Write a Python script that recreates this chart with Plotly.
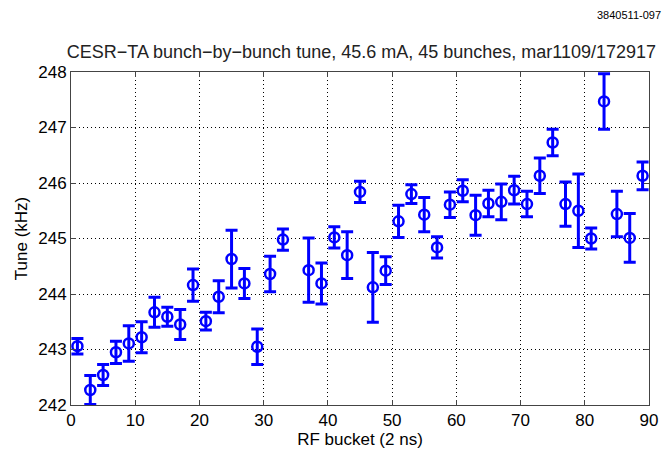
import plotly.graph_objects as go

# RF bucket numbers (bucket 35 not measured)
buckets = [1, 3, 5, 7, 9, 11, 13, 15, 17, 19, 21, 23, 25, 27, 29, 31, 33,
           37, 39, 41, 43, 45, 47, 49, 51, 53, 55, 57, 59, 61, 63, 65, 67,
           69, 71, 73, 75, 77, 79, 81, 83, 85, 87, 89]
tune_khz = [243.06, 242.27, 242.54, 242.95, 243.11, 243.22, 243.67, 243.59,
            243.45, 244.16, 243.51, 243.95, 244.63, 244.19, 243.05, 244.36,
            244.98, 244.43, 244.19, 245.02, 244.70, 245.84, 244.12, 244.42,
            245.31, 245.80, 245.43, 244.84, 245.61, 245.86, 245.42, 245.63,
            245.66, 245.87, 245.62, 246.13, 246.73, 245.62, 245.50, 245.00,
            247.47, 245.44, 245.01, 246.13]
tune_err = [0.14, 0.26, 0.19, 0.20, 0.32, 0.28, 0.27, 0.17, 0.27, 0.29,
            0.16, 0.29, 0.52, 0.27, 0.32, 0.32, 0.19, 0.58, 0.37, 0.19,
            0.42, 0.19, 0.63, 0.25, 0.29, 0.17, 0.31, 0.19, 0.23, 0.20,
            0.36, 0.24, 0.32, 0.25, 0.23, 0.32, 0.24, 0.40, 0.66, 0.19,
            0.50, 0.41, 0.44, 0.25]

x_ticks = [0, 10, 20, 30, 40, 50, 60, 70, 80, 90]
y_ticks = [242, 243, 244, 245, 246, 247, 248]

BLUE = '#0000ff'
FONT = 'Liberation Sans, Arial, sans-serif'

fig = go.Figure(go.Scatter(
    x=buckets,
    y=tune_khz,
    mode='markers',
    marker=dict(symbol='circle-open', size=10, color=BLUE, line=dict(width=2.5, color=BLUE)),
    error_y=dict(type='data', array=tune_err, visible=True,
                 color=BLUE, thickness=3, width=6),
    showlegend=False,
    cliponaxis=False,
    hovertemplate='Bucket %{x}<br>Tune: %{y:.2f} kHz<extra></extra>'
))

axis_common = dict(
    showline=True, linecolor='#444444', linewidth=1, mirror='ticks',
    ticks='inside', ticklen=5, tickcolor='#444444',
    showgrid=True, gridcolor='black', griddash='1px,3px', gridwidth=1,
    zeroline=False, automargin=False,
    tickfont=dict(family=FONT, size=17, color='black'),
)

fig.update_xaxes(
    range=[0, 90], tickvals=x_ticks, ticklabelstandoff=0,
    title=dict(text='RF bucket (2 ns)', font=dict(family=FONT, size=17, color='black'), standoff=0),
    **axis_common
)
fig.update_yaxes(
    range=[242, 248], tickvals=y_ticks, ticklabelstandoff=0,
    title=dict(text='Tune (kHz)', font=dict(family=FONT, size=17, color='black'), standoff=6),
    **axis_common
)

fig.add_annotation(
    text='3840511-097', xref='paper', yref='paper',
    x=1.024, y=1.172, xanchor='right', yanchor='middle',
    showarrow=False, font=dict(family=FONT, size=11, color='black')
)

fig.update_layout(
    title=dict(text='CESR\u2212TA bunch\u2212by\u2212bunch tune, 45.6 mA, 45 bunches, mar1109/172917',
               x=0.5025, xanchor='center', xref='paper', y=0.885, yanchor='middle',
               font=dict(family=FONT, size=18, color='#222222')),
    width=664, height=450,
    margin=dict(l=71, r=15, t=72, b=45),
    paper_bgcolor='white', plot_bgcolor='white',
)

# the page body has a default 8px margin; drop it so the figure fills the window
fig.write_html("out.html", config={'displayModeBar': False},
               post_script="document.body.style.margin='0px';")
